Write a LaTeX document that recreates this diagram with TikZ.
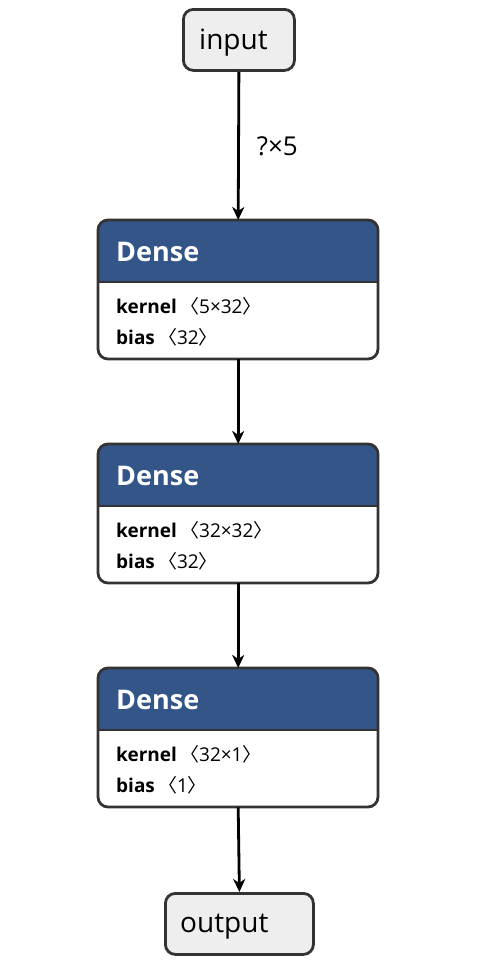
\documentclass[tikz,border=0pt]{standalone}
\usepackage{fontspec}
\setmainfont{Open Sans}
\newfontfamily\cjkb{Noto Sans CJK SC}
\usetikzlibrary{arrows.meta}
\definecolor{hdr}{RGB}{51,85,136}
\definecolor{edge}{RGB}{51,51,51}
\definecolor{io}{RGB}{238,238,238}
\tikzset{
  iobox/.style={draw=edge,line width=2.8pt,fill=io,rounded corners=10pt,anchor=north west,inner sep=0pt},
  conn/.style={draw=black,line width=2.8pt,-{Stealth[length=13pt,width=12pt,inset=4pt]}},
  iotext/.style={anchor=west,font=\fontsize{28}{32}\selectfont,inner sep=0pt},
  title/.style={anchor=west,text=white,font=\fontsize{27}{31}\selectfont\bfseries,inner sep=0pt},
  attr/.style={anchor=base west,font=\fontsize{19}{23}\selectfont,inner sep=0pt},
}
\newcommand{\br}[1]{{\cjkb〈}#1{\cjkb〉}}
\newcommand{\densebox}[4]{%
  \node[minimum width=280pt,minimum height=139pt,inner sep=0pt,anchor=north west] (#1) at (98,#2) {};
  \begin{scope}
    \clip[rounded corners=10pt] (98,#2) rectangle (378,#2+139);
    \fill[white] (98,#2) rectangle (378,#2+139);
    \fill[hdr] (98,#2) rectangle (378,#2+62);
  \end{scope}
  \draw[edge,line width=2.8pt] (98,#2+62) -- (378,#2+62);
  \draw[edge,line width=2.8pt,rounded corners=10pt] (98,#2) rectangle (378,#2+139);
  \node[title] (#1t) at (116,#2+32) {Dense};
  \node[attr] (#1k) at (116,#2+93) {\textbf{kernel}\,\br{#3}};
  \node[attr] (#1b) at (116,#2+124) {\textbf{bias}\,\br{#4}};
}
\begin{document}
\begin{tikzpicture}[x=1pt,y=-1pt]
\useasboundingbox (0,0) rectangle (483,962);
\node[iobox,minimum width=111pt,minimum height=61pt] (in) at (182,8) {};
\node[iotext] (intext) at (199,43) {input};
\densebox{d1}{220}{5×32}{32}
\densebox{d2}{444}{32×32}{32}
\densebox{d3}{668}{32×1}{1}
\node[iobox,minimum width=148pt,minimum height=61pt] (out) at (164,892) {};
\node[iotext] (outtext) at (180,927) {output};
\draw[conn] (in.south) -- node[right=17pt,font=\fontsize{26}{30}\selectfont,inner sep=0pt] (lab) {?×5} (d1.north);
\draw[conn] (d1.south) -- (d2.north);
\draw[conn] (d2.south) -- (d3.north);
\draw[conn] (d3.south) -- (out.north);
\end{tikzpicture}
\end{document}
